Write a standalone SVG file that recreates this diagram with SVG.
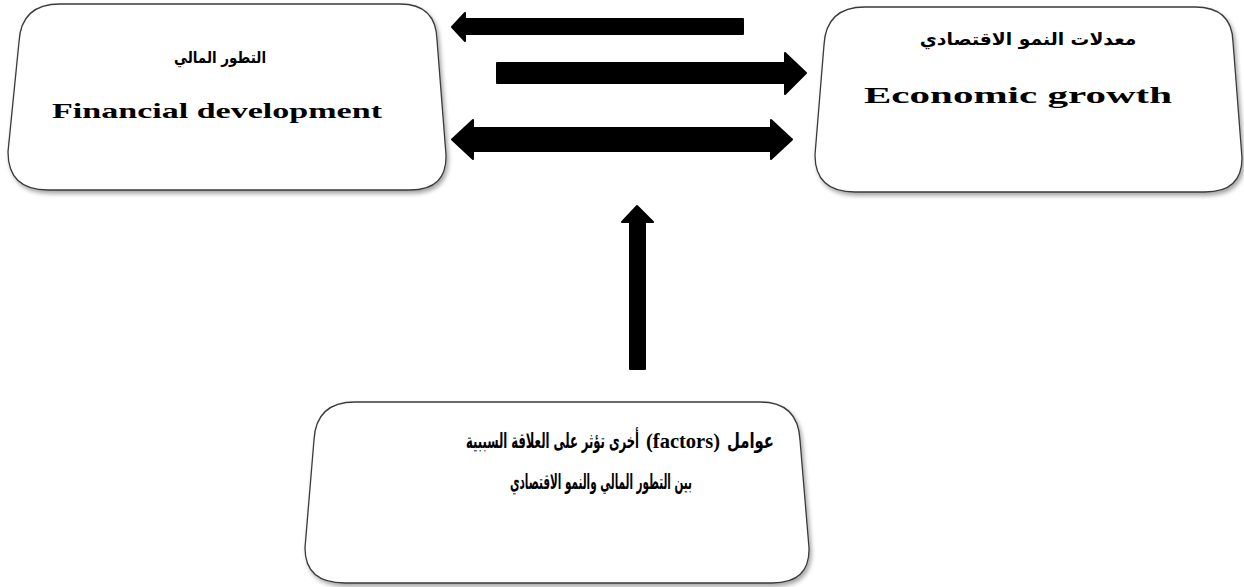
<svg xmlns="http://www.w3.org/2000/svg" width="1244" height="587" viewBox="0 0 1244 587">
  <style>
    .box { fill: #ffffff; stroke: #3a3a3a; stroke-width: 1.3; filter: url(#shadow); }
    .arrow { fill: #000000; stroke: #000000; stroke-width: 2; stroke-linejoin: round; }
    .ar { font-family: "DejaVu Sans", sans-serif; font-weight: bold; fill: #000000; }
    .en { font-family: "Liberation Serif", "Times New Roman", serif; font-weight: bold; fill: #000000; }
  </style>
  <defs>
    <filter id="shadow" x="-5%" y="-5%" width="112%" height="115%">
      <feDropShadow dx="2" dy="3" stdDeviation="2" flood-color="#000000" flood-opacity="0.35"/>
    </filter>
  </defs>
  <rect width="1244" height="587" fill="#ffffff"/>

  <g id="connectors">
    <polygon class="arrow" points="743,19 465,19 465,13 452,27 465,41 465,34 743,34"/>
    <polygon class="arrow" points="497,63 785,63 785,53 806,73 785,94 785,83 497,83"/>
    <polygon class="arrow" points="473,128 771,128 771,120 792,139.5 771,159 771,151 473,151 473,159 452,139.5 473,120"/>
    <polygon class="arrow" points="630,369 630,222 622,222 637,206 653,222 645,222 645,369"/>
  </g>

  <g id="node-financial">
    <path class="box" d="M 60 4 L 400 4 Q 436 4 437 40 L 446 155 Q 447 190 410 190 L 48 190 Q 8 190 8 152 L 19 42 Q 21 4 60 4 Z"/>
    <text class="ar" transform="translate(220,63) scale(0.86,1)" x="0" y="0" font-size="16" text-anchor="middle" direction="rtl" textLength="107" lengthAdjust="spacingAndGlyphs">التطور المالي</text>
    <text class="en" x="217" y="118" font-size="22" text-anchor="middle" textLength="330" lengthAdjust="spacingAndGlyphs">Financial development</text>
  </g>

  <g id="node-growth">
    <path class="box" d="M 865 7 L 1195 7 Q 1232 7 1233 42 L 1242 158 Q 1242 192 1205 192 L 855 192 Q 815 192 815 155 L 824 45 Q 826 7 865 7 Z"/>
    <text class="ar" transform="translate(1028,45) scale(1.1,1)" x="0" y="0" font-size="17" text-anchor="middle" direction="rtl" textLength="197" lengthAdjust="spacingAndGlyphs">معدلات النمو الاقتصادي</text>
    <text class="en" x="1018" y="103" font-size="23" text-anchor="middle" textLength="308" lengthAdjust="spacingAndGlyphs">Economic growth</text>
  </g>

  <g id="node-factors">
    <path class="box" d="M 355 402 L 760 402 Q 798 402 800 440 L 809 548 Q 810 583 772 583 L 345 583 Q 305 583 305 548 L 314 440 Q 316 402 355 402 Z"/>
    <text class="ar" transform="translate(750.5,448) scale(0.77,1)" x="0" y="0" font-size="21" text-anchor="middle" direction="rtl" textLength="61" lengthAdjust="spacingAndGlyphs">عوامل</text>
    <text class="en" x="683" y="448" font-size="20.5" text-anchor="middle">(factors)</text>
    <text class="ar" transform="translate(552.5,448) scale(0.515,1)" x="0" y="0" font-size="21" text-anchor="middle" direction="rtl" textLength="336" lengthAdjust="spacingAndGlyphs">أخرى تؤثر على العلاقة السببية</text>
    <text class="ar" transform="translate(601,489) scale(0.496,1)" x="0" y="0" font-size="21" text-anchor="middle" direction="rtl" textLength="367" lengthAdjust="spacingAndGlyphs">بين التطور المالي والنمو الاقتصادي</text>
  </g>
</svg>
